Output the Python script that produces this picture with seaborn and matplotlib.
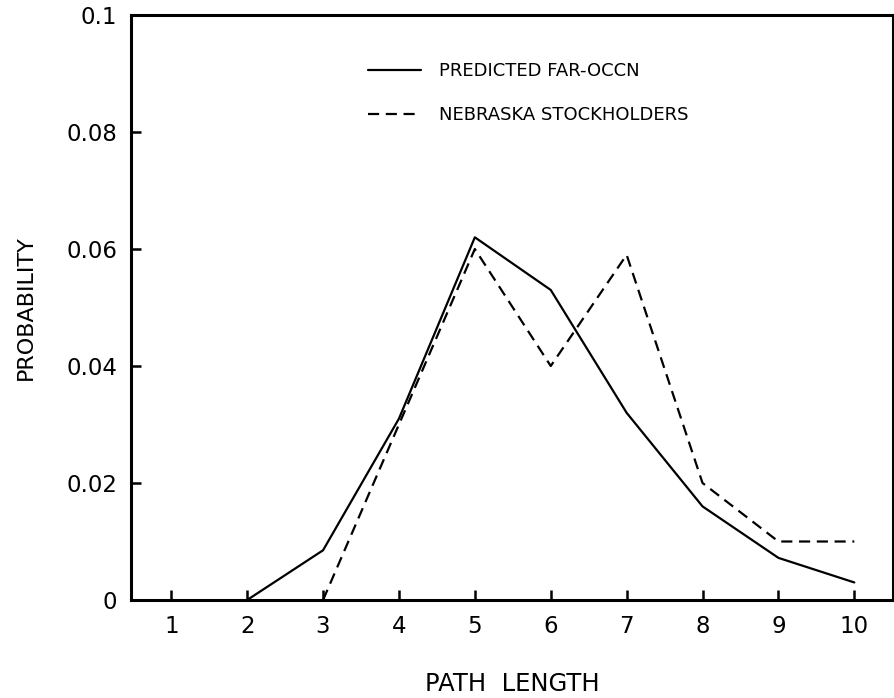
import numpy as np
import pandas as pd
import matplotlib
matplotlib.use("Agg")
import matplotlib.pyplot as plt
import seaborn as sns

# Values
path_length = [1, 2, 3, 4, 5, 6, 7, 8, 9, 10]
predicted = [np.nan, 0.0, 0.0085, 0.031, 0.062, 0.053, 0.032, 0.016, 0.0072, 0.003]
nebraska = [np.nan, np.nan, 0.0, 0.030, 0.060, 0.040, 0.059, 0.020, 0.010, 0.010]
series_names = ["PREDICTED FAR-OCCN", "NEBRASKA STOCKHOLDERS"]
y_ticks = [0, 0.02, 0.04, 0.06, 0.08, 0.1]
y_labels = ["0", "0.02", "0.04", "0.06", "0.08", "0.1"]

df = pd.DataFrame({
    "length": path_length * 2,
    "prob": predicted + nebraska,
    "series": [series_names[0]] * len(path_length) + [series_names[1]] * len(path_length),
}).dropna()

sns.set_style("ticks")
plt.rcParams["font.family"] = ["DejaVu Sans"]
plt.rcParams["text.color"] = "black"
plt.rcParams["axes.labelcolor"] = "black"

fig = plt.figure(figsize=(8.95, 6.98), dpi=100)
ax = fig.add_axes([0.1464, 0.1404, 0.8514, 0.8381])

sns.lineplot(data=df, x="length", y="prob", style="series", style_order=series_names,
             dashes={series_names[0]: "", series_names[1]: (5, 3)},
             color="black", linewidth=1.6, ax=ax, legend=True)

ax.set_xlim(0.47, 10.51)
ax.set_ylim(0, 0.1)
ax.set_xticks(path_length)
ax.set_xticklabels([str(v) for v in path_length])
ax.set_yticks(y_ticks)
ax.set_yticklabels(y_labels)
ax.tick_params(direction="in", length=7, width=1.8, labelsize=16.5, colors="black")
ax.tick_params(axis="x", pad=11)
ax.tick_params(axis="y", pad=10)

for sp in ax.spines.values():
    sp.set_linewidth(2.2)
    sp.set_color("black")
    sp.set_visible(True)

ax.set_xlabel("PATH  LENGTH", fontsize=17.5, labelpad=24, color="black")
ax.set_ylabel("PROBABILITY", fontsize=16, labelpad=22, color="black")

leg = ax.legend(loc="upper left", bbox_to_anchor=(0.29, 0.947), frameon=False,
                fontsize=13, handlelength=2.9, handletextpad=1.0, labelspacing=1.45)
for line in leg.get_lines():
    line.set_color("black")
    line.set_linewidth(1.6)
for t in leg.get_texts():
    t.set_color("black")

fig.savefig("out.png", dpi=100)
